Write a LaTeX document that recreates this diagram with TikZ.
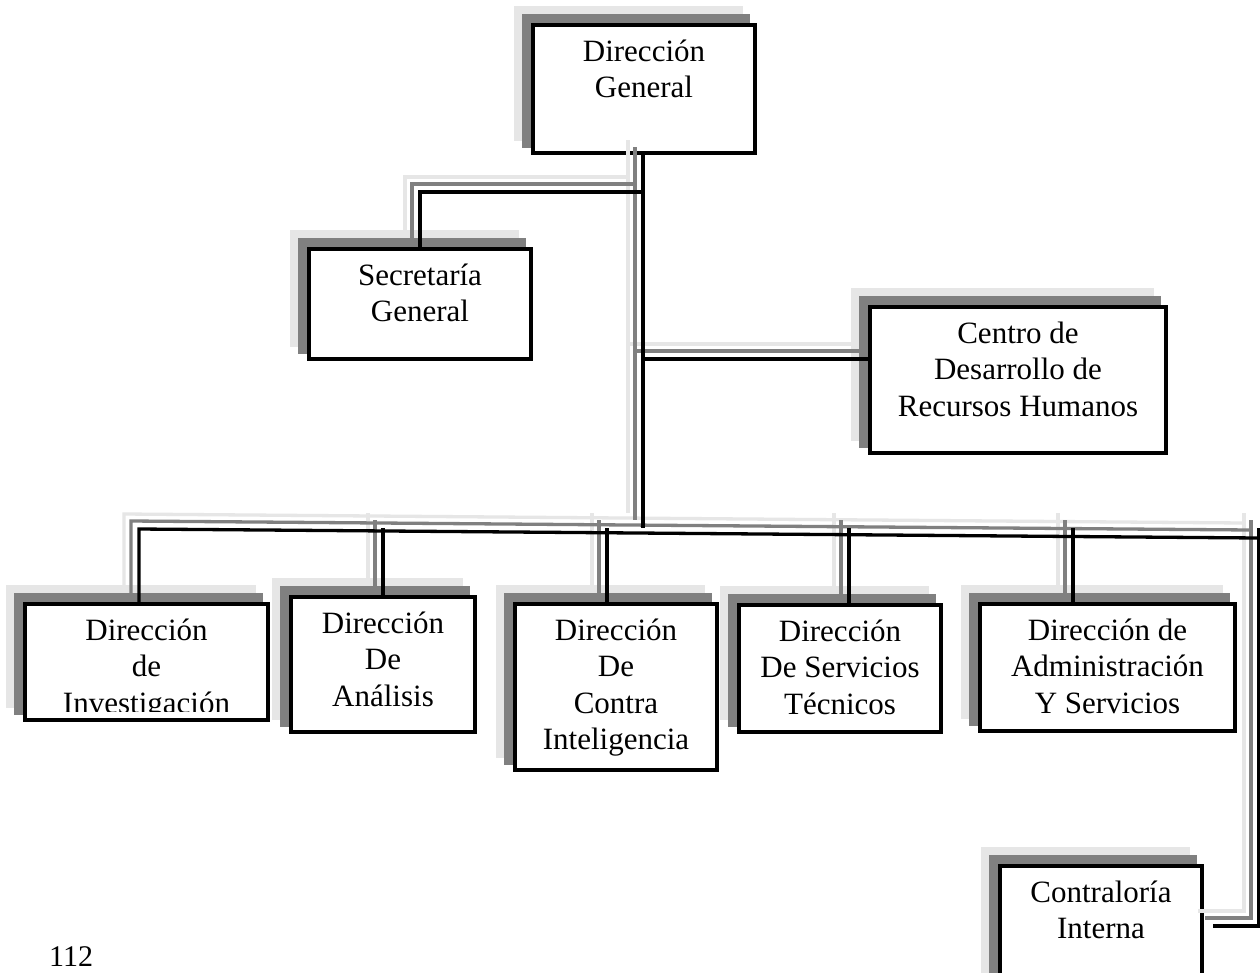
\documentclass[tikz,border=0pt]{standalone}
\usepackage{fontspec}
\setmainfont{Liberation Serif}
\usetikzlibrary{calc}
\pgfdeclarelayer{shadowlayer}
\pgfsetlayers{shadowlayer,main}
\definecolor{shadelight}{HTML}{E6E6E6}
\definecolor{shadedark}{HTML}{808080}
\tikzset{
  unitbox/.style={rectangle, draw=black, line width=3.6pt, fill=white,
    inner sep=0pt, font=\fontsize{31}{36.5}\selectfont},
  unittext/.style={inner sep=0pt, font=\fontsize{31}{36.5}\selectfont},
  link/.style={line width=3.3pt},
}
% box with outer edges x1 y1 x2 y2, text set from the top, and a two-tone drop shadow
\newcommand{\orgunit}[6]{%
  \pgfmathsetmacro{\uw}{#4-#2-3.6}%
  \pgfmathsetmacro{\uh}{#5-#3-3.6}%
  \node[unitbox, minimum width=\uw pt, minimum height=\uh pt] (#1)
    at ({(#2+#4)/2},{(#3+#5)/2})
    {\parbox[c][\uh pt][t]{\uw pt}{\centering\rule{0pt}{36.2pt}#6\par}};
  \begin{pgfonlayer}{shadowlayer}
    \fill[shadelight] ([shift={(-17pt,17pt)}]#1.north west) rectangle ([shift={(-14pt,14pt)}]#1.south east);
    \fill[shadedark] ([shift={(-9pt,9pt)}]#1.north west) rectangle ([shift={(-7pt,7pt)}]#1.south east);
  \end{pgfonlayer}
}
% all connectors of the chart
\newcommand{\orglinks}{%
  \draw[link] (dg.south -| trunk) -- (trunk);
  \draw[link] (jsg) -| (sg.north);
  \draw[link] (jcd) -- (jcd -| cdrh.west);
  \draw[link] (inv.north -| busL) -- (busL) -- (busR);
  \draw[link] (tana) -- (tana |- ana.north);
  \draw[link] (tci) -- (tci |- ci.north);
  \draw[link] (tst) -- (tst |- st.north);
  \draw[link] (tdas) -- (tdas |- das.north);
  \draw[link] (rtop) -- (rbot) -- (cstub);
}
\begin{document}
\begin{tikzpicture}[x=1pt,y=-1pt]
\useasboundingbox (0,0) rectangle (1260,972);
\begin{pgfonlayer}{shadowlayer}
  \fill[white] (0,0) rectangle (1260,972);
\end{pgfonlayer}

\orgunit{dg}{531}{23}{757}{155}{Dirección\\General}
\orgunit{sg}{307}{247}{533}{361}{Secretaría\\General}
\orgunit{cdrh}{868}{305}{1168}{455}{Centro de\\Desarrollo de\\Recursos Humanos}
\orgunit{inv}{23}{602}{270}{722}{}
\orgunit{ana}{289}{595}{477}{734}{Dirección\\De\\Análisis}
\orgunit{ci}{513}{602}{719}{772}{Dirección\\De\\Contra\\Inteligencia}
\orgunit{st}{737}{603}{943}{734}{Dirección\\De Servicios\\Técnicos}
\orgunit{das}{978}{602}{1237}{733}{Dirección de\\Administración\\Y Servicios}
\orgunit{cin}{998}{864}{1204}{1010}{Contraloría\\Interna}

% the last line of this label runs into the bottom margin of its box
\begin{scope}
  \clip (23,602) rectangle (270,711);
  \node[unittext, anchor=north] (invlabel) at (inv.north)
    {\parbox[t]{240pt}{\centering\rule{0pt}{38pt}Dirección\\de\\Investigación}};
\end{scope}

% junctions and free ends of the connectors
\coordinate (trunk) at (643,528);
\coordinate (jsg) at (643,192);
\coordinate (jcd) at (643,359);
\coordinate (busL) at (139,529);
\coordinate (busR) at (1259,538);
\coordinate (tana) at (383,528);
\coordinate (tci) at (607,528);
\coordinate (tst) at (849,528);
\coordinate (tdas) at (1073,528);
\coordinate (rtop) at (1259,528);
\coordinate (rbot) at (1259,926);
\coordinate (cstub) at (1213,926);

\begin{scope}[transform canvas={shift={(-15pt,15pt)}}, color=shadelight]
  \orglinks
\end{scope}
\begin{scope}[transform canvas={shift={(-8pt,8pt)}}, color=shadedark]
  \orglinks
\end{scope}
\begin{scope}[color=black]
  \orglinks
\end{scope}

\node[anchor=base west, inner sep=0pt, font=\fontsize{30}{36}\selectfont] (pagenum) at (49,966) {112};
\end{tikzpicture}
\end{document}
